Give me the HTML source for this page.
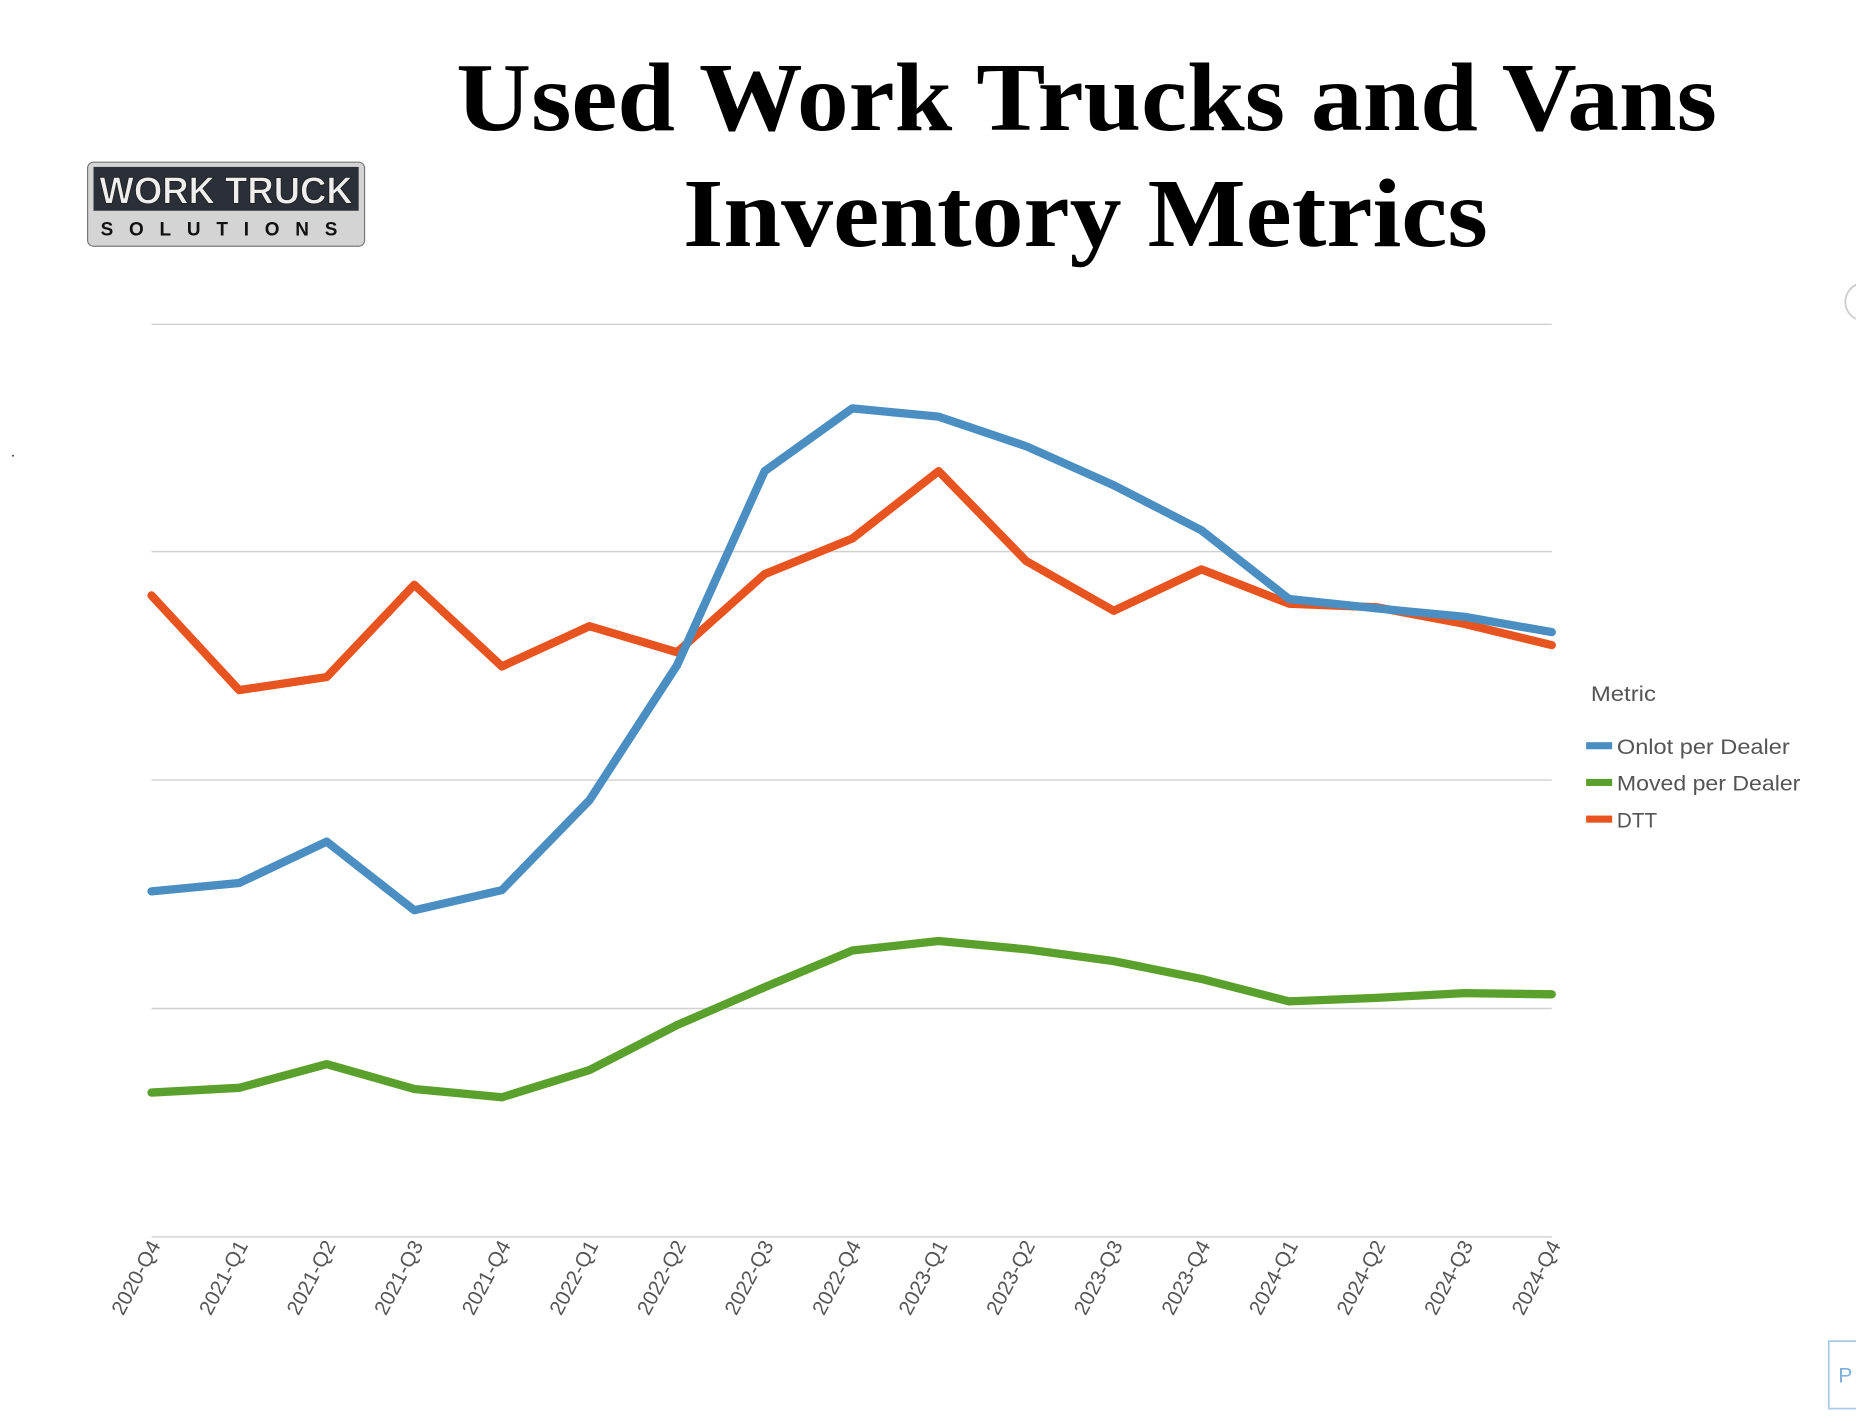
<!DOCTYPE html>
<html><head><meta charset="utf-8"><style>html,body{margin:0;padding:0;background:#fff;}svg{display:block;}</style></head>
<body>
<svg width="1856" height="1424" viewBox="0 0 1568 1203" xmlns="http://www.w3.org/2000/svg">
<rect width="1568" height="1203" fill="#fff"/>
<text x="918" y="110" text-anchor="middle" font-family="Liberation Serif, serif" font-weight="bold" font-size="82" textLength="1065" lengthAdjust="spacingAndGlyphs">Used Work Trucks and Vans</text>
<text x="917" y="208" text-anchor="middle" font-family="Liberation Serif, serif" font-weight="bold" font-size="82" textLength="680" lengthAdjust="spacingAndGlyphs">Inventory Metrics</text>
<g>
<rect x="74" y="137" width="234" height="71" rx="5" fill="#d4d4d4" stroke="#777" stroke-width="1"/>
<rect x="79" y="141" width="224" height="37" fill="#2a2f38"/>
<text x="191" y="172" text-anchor="middle" font-family="Liberation Sans, sans-serif" font-weight="bold" font-size="32" fill="#eee" stroke="#222" stroke-width="0.8" textLength="214" lengthAdjust="spacingAndGlyphs">WORK TRUCK</text>
<text x="191" y="199" text-anchor="middle" font-family="Liberation Sans, sans-serif" font-weight="bold" font-size="16" fill="#111" letter-spacing="12" textLength="212" lengthAdjust="spacing">SOLUTIONS</text>
</g>
<g stroke="#d0d0d0" stroke-width="1.2">
<line x1="128" y1="274" x2="1311" y2="274"/><line x1="128" y1="466" x2="1311" y2="466"/><line x1="128" y1="659" x2="1311" y2="659"/><line x1="128" y1="852" x2="1311" y2="852"/><line x1="128" y1="1045" x2="1311" y2="1045"/>
</g>
<g fill="none" stroke-width="7" stroke-linejoin="round" stroke-linecap="round">
<polyline stroke="#5aa02c" points="128,923 202,919 276,899 350,920 424,927 498,904 572,866 646,834 720,803 793,795 867,802 941,812 1015,827 1089,846 1163,843 1237,839 1311,840"/>
<polyline stroke="#e8541f" points="128,503 202,583 276,572 350,494 424,563 498,529 572,551 646,485 720,455 793,398 867,474 941,516 1015,481 1089,510 1163,513 1237,527 1311,545"/>
<polyline stroke="#4a8ec2" points="128,753 202,746 276,711 350,769 424,752 498,676 572,562 646,398 720,345 793,352 867,377 941,410 1015,448 1089,506 1163,514 1237,521 1311,534"/>
</g>
<g font-family="Liberation Sans, sans-serif" font-size="17.5" fill="#555" text-anchor="end">
<text transform="translate(136,1052) rotate(-62)">2020-Q4</text>
<text transform="translate(210,1052) rotate(-62)">2021-Q1</text>
<text transform="translate(284,1052) rotate(-62)">2021-Q2</text>
<text transform="translate(358,1052) rotate(-62)">2021-Q3</text>
<text transform="translate(432,1052) rotate(-62)">2021-Q4</text>
<text transform="translate(506,1052) rotate(-62)">2022-Q1</text>
<text transform="translate(580,1052) rotate(-62)">2022-Q2</text>
<text transform="translate(654,1052) rotate(-62)">2022-Q3</text>
<text transform="translate(728,1052) rotate(-62)">2022-Q4</text>
<text transform="translate(801,1052) rotate(-62)">2023-Q1</text>
<text transform="translate(875,1052) rotate(-62)">2023-Q2</text>
<text transform="translate(949,1052) rotate(-62)">2023-Q3</text>
<text transform="translate(1023,1052) rotate(-62)">2023-Q4</text>
<text transform="translate(1097,1052) rotate(-62)">2024-Q1</text>
<text transform="translate(1171,1052) rotate(-62)">2024-Q2</text>
<text transform="translate(1245,1052) rotate(-62)">2024-Q3</text>
<text transform="translate(1319,1052) rotate(-62)">2024-Q4</text>
</g>
<g font-family="Liberation Sans, sans-serif" font-size="18" fill="#555">
<text x="1344" y="592" textLength="55" lengthAdjust="spacingAndGlyphs">Metric</text>
<rect x="1340" y="627" width="22" height="6" fill="#4a8ec2"/><text x="1366" y="637" textLength="146" lengthAdjust="spacingAndGlyphs">Onlot per Dealer</text>
<rect x="1340" y="658" width="22" height="6" fill="#5aa02c"/><text x="1366" y="668" textLength="155" lengthAdjust="spacingAndGlyphs">Moved per Dealer</text>
<rect x="1340" y="689" width="22" height="6" fill="#e8541f"/><text x="1366" y="699" textLength="34" lengthAdjust="spacingAndGlyphs">DTT</text>
</g>
<circle cx="1575" cy="255" r="16" fill="none" stroke="#ccc" stroke-width="1.5"/>
<rect x="1545" y="1133" width="40" height="57" fill="#fff" stroke="#a8cbe8" stroke-width="1.5"/>
<text x="1553" y="1168" font-family="Liberation Sans, sans-serif" font-size="18" fill="#7fb0dd">P</text>
<circle cx="11" cy="385" r="0.8" fill="#333"/>
</svg>
</body></html>
